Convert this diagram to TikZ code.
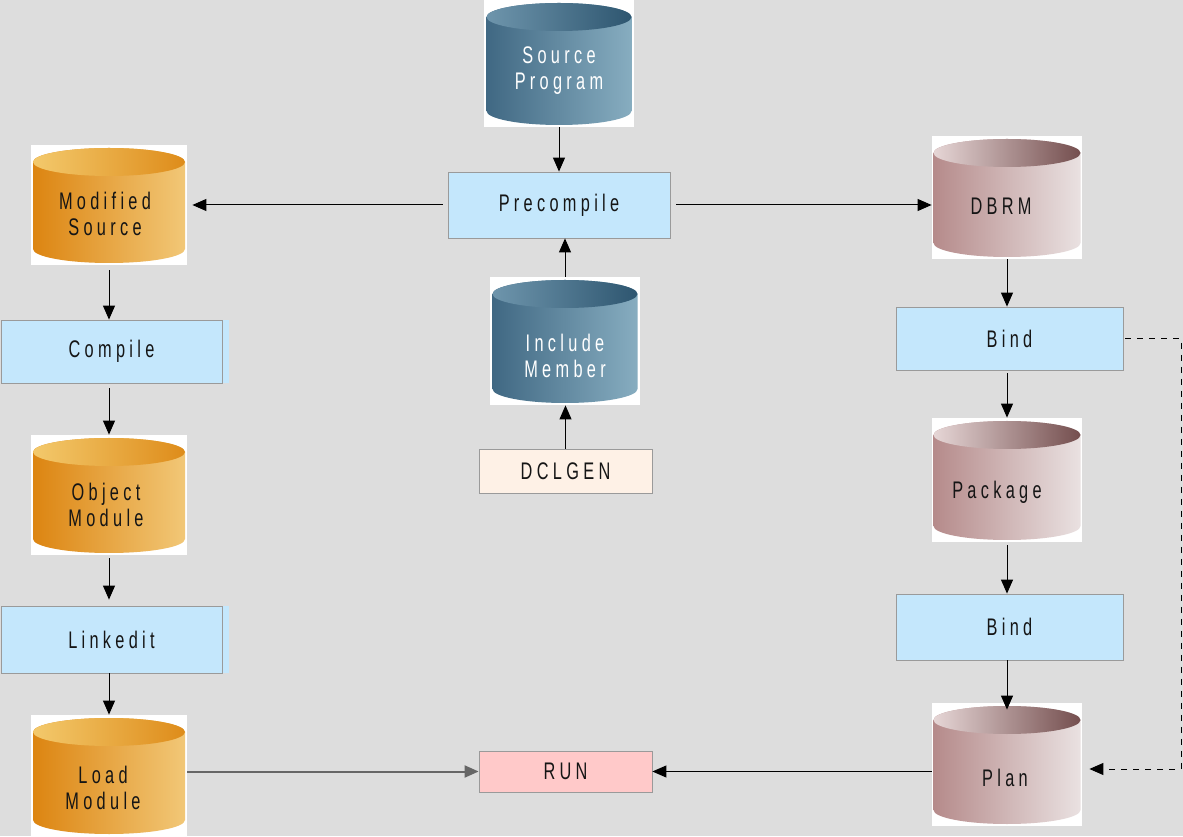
\documentclass[tikz,border=0pt]{standalone}
\usepackage{fontspec}
\newfontfamily\chartfont[FakeStretch=0.68,LetterSpace=18]{Liberation Sans}
\usetikzlibrary{arrows.meta,positioning}

\definecolor{bggrey}{HTML}{DDDDDD}
\definecolor{procblue}{HTML}{C4E7FC}
\definecolor{procline}{HTML}{9A9A9A}
\definecolor{genpeach}{HTML}{FEF1E6}
\definecolor{runpink}{HTML}{FFC9C9}
\definecolor{inktext}{HTML}{151515}
% cylinder colours: body left/right, top left/right
\definecolor{bluebl}{HTML}{3F6782}
\definecolor{bluebr}{HTML}{88AEC1}
\definecolor{bluetl}{HTML}{6E95AC}
\definecolor{bluetr}{HTML}{2E5670}
\definecolor{orbl}{HTML}{DC8410}
\definecolor{orbr}{HTML}{F2C878}
\definecolor{ortl}{HTML}{F3C96C}
\definecolor{ortr}{HTML}{DE8C1A}
\definecolor{mvbl}{HTML}{B58A8A}
\definecolor{mvbr}{HTML}{EAE2E2}
\definecolor{mvtl}{HTML}{E6D6D6}
\definecolor{mvtr}{HTML}{744E4E}

\newcommand{\cylrx}{36pt}
\newcommand{\cyltop}{8.5pt}
\newcommand{\cylbot}{8pt}
\newcommand{\lblfont}{\chartfont\fontsize{12}{13}\selectfont}
\newcommand{\cylfill}[4]{%
  \shade[left color=#1,right color=#2]
    ([xshift=-\cylrx,yshift=-\cyltop]path picture bounding box.north)
    -- ([xshift=-\cylrx,yshift=\cylbot]path picture bounding box.south)
    arc[start angle=180,end angle=360,x radius=\cylrx,y radius=7pt]
    -- ([xshift=\cylrx,yshift=-\cyltop]path picture bounding box.north)
    arc[start angle=0,end angle=180,x radius=\cylrx,y radius=7pt] -- cycle;
  \shade[left color=#3,right color=#4]
    ([yshift=-\cyltop]path picture bounding box.north)
    ellipse[x radius=\cylrx,y radius=7pt];
}

\begin{document}
\begin{tikzpicture}[x=0.5pt,y=0.5pt,
  cyl rx/.code={\def\cylrx{#1}},
  box/.style={draw=procline,fill=procblue,font=\lblfont,text=inktext,inner sep=0pt},
  widebox/.style={box,preaction={fill=procblue,transform canvas={xshift=3.5pt}}},
  dbbox/.style={fill=white,inner sep=0pt,minimum width=75pt,minimum height=62pt},
  bluedb/.style={dbbox,cyl rx=36.25pt,path picture={\cylfill{bluebl}{bluebr}{bluetl}{bluetr}}},
  orangedb/.style={dbbox,minimum width=78pt,minimum height=60pt,cyl rx=38pt,
    path picture={\cylfill{orbl}{orbr}{ortl}{ortr}}},
  mauvedb/.style={dbbox,cyl rx=36.75pt,path picture={\cylfill{mvbl}{mvbr}{mvtl}{mvtr}}},
  dblabel/.style={font=\lblfont,align=center,text=inktext},
  flow/.style={line width=0.5pt,-{Triangle[length=7pt,width=6pt]}}]

  \fill[bggrey] (0,0) rectangle (1183,836);
  \useasboundingbox (0,0) rectangle (1183,836);

  % middle column
  \node[bluedb,minimum height=63.5pt,
    label={[dblabel,text=white,yshift=-3.75pt]center:Source\\Program}] (src) at (559,772.5) {};
  \node[box,minimum width=111pt,minimum height=33pt] (precomp) at (559,631) {Precompile};
  \node[bluedb,minimum height=64pt,
    label={[dblabel,text=white,yshift=-7.5pt]center:Include\\Member}] (incl) at (565,495) {};
  \node[box,fill=genpeach,minimum width=86.5pt,minimum height=22pt] (dclgen) at (565.5,365) {DCLGEN};
  \node[box,fill=runpink,minimum width=86.5pt,minimum height=20.5pt] (run) at (565.5,64.5) {RUN};

  % left column
  \node[orangedb,label={[dblabel,yshift=-4.5pt,xshift=-2pt]center:Modified\\Source}] (modsrc) at (109,631) {};
  \node[widebox,minimum width=110.5pt,minimum height=31.5pt] (compile) at (111.5,484.5) {Compile};
  \node[orangedb,label={[dblabel,yshift=-5pt,xshift=-1.5pt]center:Object\\Module}] (obj) at (109,341) {};
  \node[widebox,minimum width=110.5pt,minimum height=33.5pt] (linkedit) at (111.5,196.5) {Linkedit};
  \node[orangedb,minimum height=60.5pt,
    label={[dblabel,yshift=-6pt,xshift=-3pt]center:Load\\Module}] (load) at (109,60.5) {};

  % right column
  \node[mauvedb,minimum height=61.5pt,label={[dblabel,yshift=-4.25pt,xshift=-3pt]center:DBRM}] (dbrm) at (1007,638.5) {};
  \node[box,minimum width=113.5pt,minimum height=31.5pt] (bind1) at (1009.5,497.5) {Bind};
  \node[mauvedb,label={[dblabel,yshift=-6pt,xshift=-5pt]center:Package}] (pkg) at (1007,356) {};
  \node[box,minimum width=113.5pt,minimum height=33pt] (bind2) at (1009.5,209) {Bind};
  \node[mauvedb,minimum height=61.5pt,label={[dblabel,yshift=-6.75pt,xshift=-1pt]center:Plan}] (plan) at (1007,71.5) {};

  \coordinate (bendtop) at (1181,497.5);
  \coordinate (bendbot) at (1181,67);

  % precompile step
  \draw[flow] (src) -- (precomp);
  \draw[flow] (incl.north) -- (incl.north |- precomp.south);
  \draw[flow] (dclgen.north) -- (dclgen.north |- incl.south);
  \draw[flow,shorten <=2.5pt,shorten >=2.5pt] (precomp.west) -- (precomp.west -| modsrc.east);
  \draw[flow,shorten <=3pt] (precomp.east) -- (precomp.east -| dbrm.west);

  % compile and link
  \draw[flow,shorten <=2.5pt] (modsrc.south) -- (modsrc.south |- compile.north);
  \draw[flow,shorten <=2.5pt] (compile.south -| modsrc.south) -- (obj.north);
  \draw[flow,shorten <=1.5pt,shorten >=3pt] (obj.south) -- (obj.south |- linkedit.north);
  \draw[flow] (linkedit.south -| load.north) -- (load.north);
  \draw[flow,line width=1pt,draw=black!60] (load.east |- run.west) -- (run.west);

  % bind
  \draw[flow] (dbrm.south) -- (dbrm.south |- bind1.north);
  \draw[flow,shorten <=1.5pt] (bind1.south -| pkg.north) -- (pkg.north);
  \draw[flow,shorten <=1.5pt] (pkg.south) -- (pkg.south |- bind2.north);
  \draw[flow,shorten >=-3.5pt] (bind2.south -| plan.north) -- (plan.north);
  \draw[flow] (plan.west |- run.east) -- (run.east);
  \draw[flow,dash pattern=on 3pt off 3pt,shorten >=3.5pt]
    ([xshift=1pt]bind1.east) -- (bendtop) -- (bendbot) -- (bendbot -| plan.east);

\end{tikzpicture}
\end{document}
